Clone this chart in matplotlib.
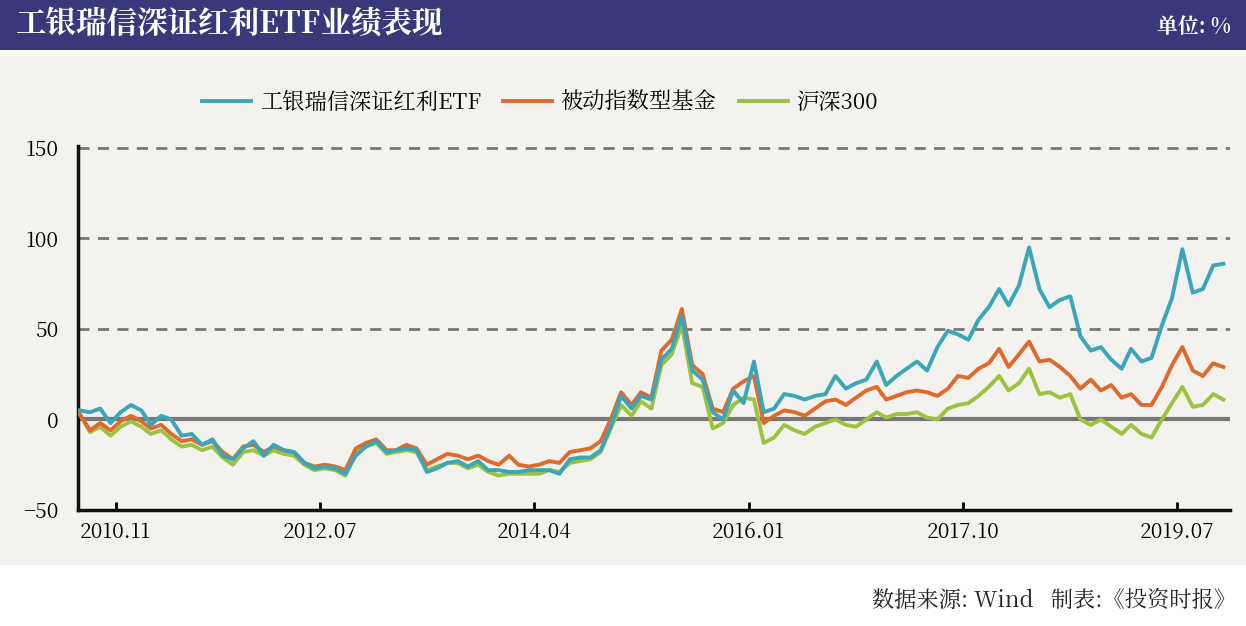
import matplotlib
matplotlib.use("Agg")
import matplotlib.pyplot as plt
from matplotlib import font_manager
import pandas as pd
from matplotlib.patches import Rectangle

# pick whatever CJK family is actually registered
cjk = [f.name for f in font_manager.fontManager.ttflist if "CJK" in f.name]
cjk_name = next((n for n in cjk if "SC" in n), cjk[0] if cjk else "DejaVu Sans")
plt.rcParams["font.family"] = "sans-serif"
plt.rcParams["font.sans-serif"] = [cjk_name, "DejaVu Sans"]

# monthly points, 2010.07 - 2019.11
dates = pd.date_range("2010-07-31", periods=113, freq="ME")

etf = [5, 4, 6, -2, 4, 8, 5, -3, 2, 0, -9, -8, -14, -11, -20, -22, -16, -12, -20, -14,
       -17, -18, -24, -27, -26, -27, -30, -20, -15, -12, -18, -17, -16, -17, -29, -27, -24, -23, -26, -23,
       -28, -28, -29, -29, -28, -28, -28, -30, -22, -21, -21, -17, -4, 13, 6, 13, 11, 33, 39, 57,
       27, 22, 4, 0, 16, 9, 32, 4, 6, 14, 13, 11, 13, 14, 24, 17, 20, 22, 32, 19,
       24, 28, 32, 27, 40, 49, 47, 44, 55, 62, 72, 63, 74, 95, 72, 62, 66, 68, 46, 38,
       40, 33, 28, 39, 32, 34, 52, 67, 94, 70, 72, 85, 86]
passive = [3, -6, -2, -6, -1, 2, -1, -5, -3, -8, -12, -11, -14, -12, -18, -22, -15, -14, -18, -15,
           -17, -18, -24, -26, -25, -26, -28, -16, -13, -11, -17, -17, -14, -16, -25, -22, -19, -20, -22, -20,
           -23, -25, -20, -25, -26, -25, -23, -24, -18, -17, -16, -12, 0, 15, 8, 15, 12, 38, 44, 61,
           30, 25, 6, 4, 17, 21, 24, -2, 2, 5, 4, 2, 6, 10, 11, 8, 12, 16, 18, 11,
           13, 15, 16, 15, 13, 17, 24, 23, 28, 31, 39, 29, 36, 43, 32, 33, 29, 24, 17, 22,
           16, 19, 12, 14, 8, 8, 18, 30, 40, 27, 24, 31, 29]
hs300 = [3, -7, -4, -9, -4, -1, -4, -8, -6, -11, -15, -14, -17, -15, -21, -25, -18, -17, -20, -17,
         -19, -20, -25, -28, -27, -28, -31, -18, -15, -13, -19, -18, -17, -18, -28, -26, -24, -24, -27, -25,
         -29, -31, -30, -30, -30, -30, -28, -29, -24, -23, -22, -18, -5, 8, 2, 10, 6, 30, 36, 52,
         20, 18, -5, -2, 8, 12, 11, -13, -10, -3, -6, -8, -4, -2, 0, -3, -4, 0, 4, 1,
         3, 3, 4, 1, 0, 6, 8, 9, 13, 18, 24, 16, 20, 28, 14, 15, 12, 14, 0, -3,
         0, -4, -8, -3, -8, -10, 0, 9, 18, 7, 8, 14, 11]

series_names = ["工银瑞信深证红利ETF", "被动指数型基金", "沪深300"]
colors = ["#3aa6b9", "#e06a2b", "#9cc340"]
tick_dates = ["2010-11-15", "2012-07-15", "2014-04-15", "2016-01-15", "2017-10-15", "2019-07-15"]
tick_labels = ["2010.11", "2012.07", "2014.04", "2016.01", "2017.10", "2019.07"]
yticks = [-50, 0, 50, 100, 150]

fig = plt.figure(figsize=(12.46, 6.26), dpi=100)
fig.patch.set_facecolor("white")
# header bar and panel background
fig.add_artist(Rectangle((0, 1 - 50 / 626), 1, 50 / 626, transform=fig.transFigure,
                         facecolor="#38387a", edgecolor="none"))
fig.add_artist(Rectangle((0, 1 - 565 / 626), 1, (565 - 56) / 626, transform=fig.transFigure,
                         facecolor="#f3f2ee", edgecolor="none", zorder=0))
fig.text(0.012, 1 - 25 / 626, "工银瑞信深证红利ETF业绩表现", color="white", fontsize=22,
         fontweight="bold", va="center", ha="left")
fig.text(0.988, 1 - 27 / 626, "单位: %", color="white", fontsize=15, fontweight="bold",
         va="center", ha="right")
fig.text(0.992, 1 - 600 / 626, "数据来源: Wind   制表:《投资时报》", color="#222222",
         fontsize=16, va="center", ha="right")

ax = fig.add_axes([78 / 1246, 1 - 510 / 626, (1230 - 78) / 1246, (510 - 146) / 626])
ax.set_facecolor("none")
ax.plot(dates, hs300, color=colors[2], lw=2.8, label=series_names[2], zorder=3)
ax.plot(dates, passive, color=colors[1], lw=2.8, label=series_names[1], zorder=4)
ax.plot(dates, etf, color=colors[0], lw=2.8, label=series_names[0], zorder=5)

for v in [50, 100, 150]:
    ax.axhline(v, color="#777777", lw=2, ls=(0, (4, 3)), zorder=1)
ax.axhline(0, color="#777777", lw=3, zorder=2)

ax.set_ylim(-50, 151)
ax.set_xlim(dates[0] - pd.Timedelta(days=5), dates[-1] + pd.Timedelta(days=20))
ax.set_yticks(yticks)
ax.set_xticks(pd.to_datetime(tick_dates))
ax.set_xticklabels(tick_labels)
ax.tick_params(axis="y", length=0, labelsize=15, pad=14)
ax.tick_params(axis="x", length=6, width=2, direction="in", labelsize=15, pad=8)
for s in ["top", "right"]:
    ax.spines[s].set_visible(False)
for s in ["left", "bottom"]:
    ax.spines[s].set_linewidth(2.5)
    ax.spines[s].set_color("#111111")

handles, labels = ax.get_legend_handles_labels()
order = [2, 1, 0]
fig.legend([handles[i] for i in order], [labels[i] for i in order], loc="center",
           bbox_to_anchor=(540 / 1246, 1 - 103 / 626), ncol=3, frameon=False, fontsize=16,
           handlelength=2.2, handletextpad=0.4, columnspacing=1.0)

fig.savefig("out.png", dpi=100, facecolor=fig.get_facecolor())
